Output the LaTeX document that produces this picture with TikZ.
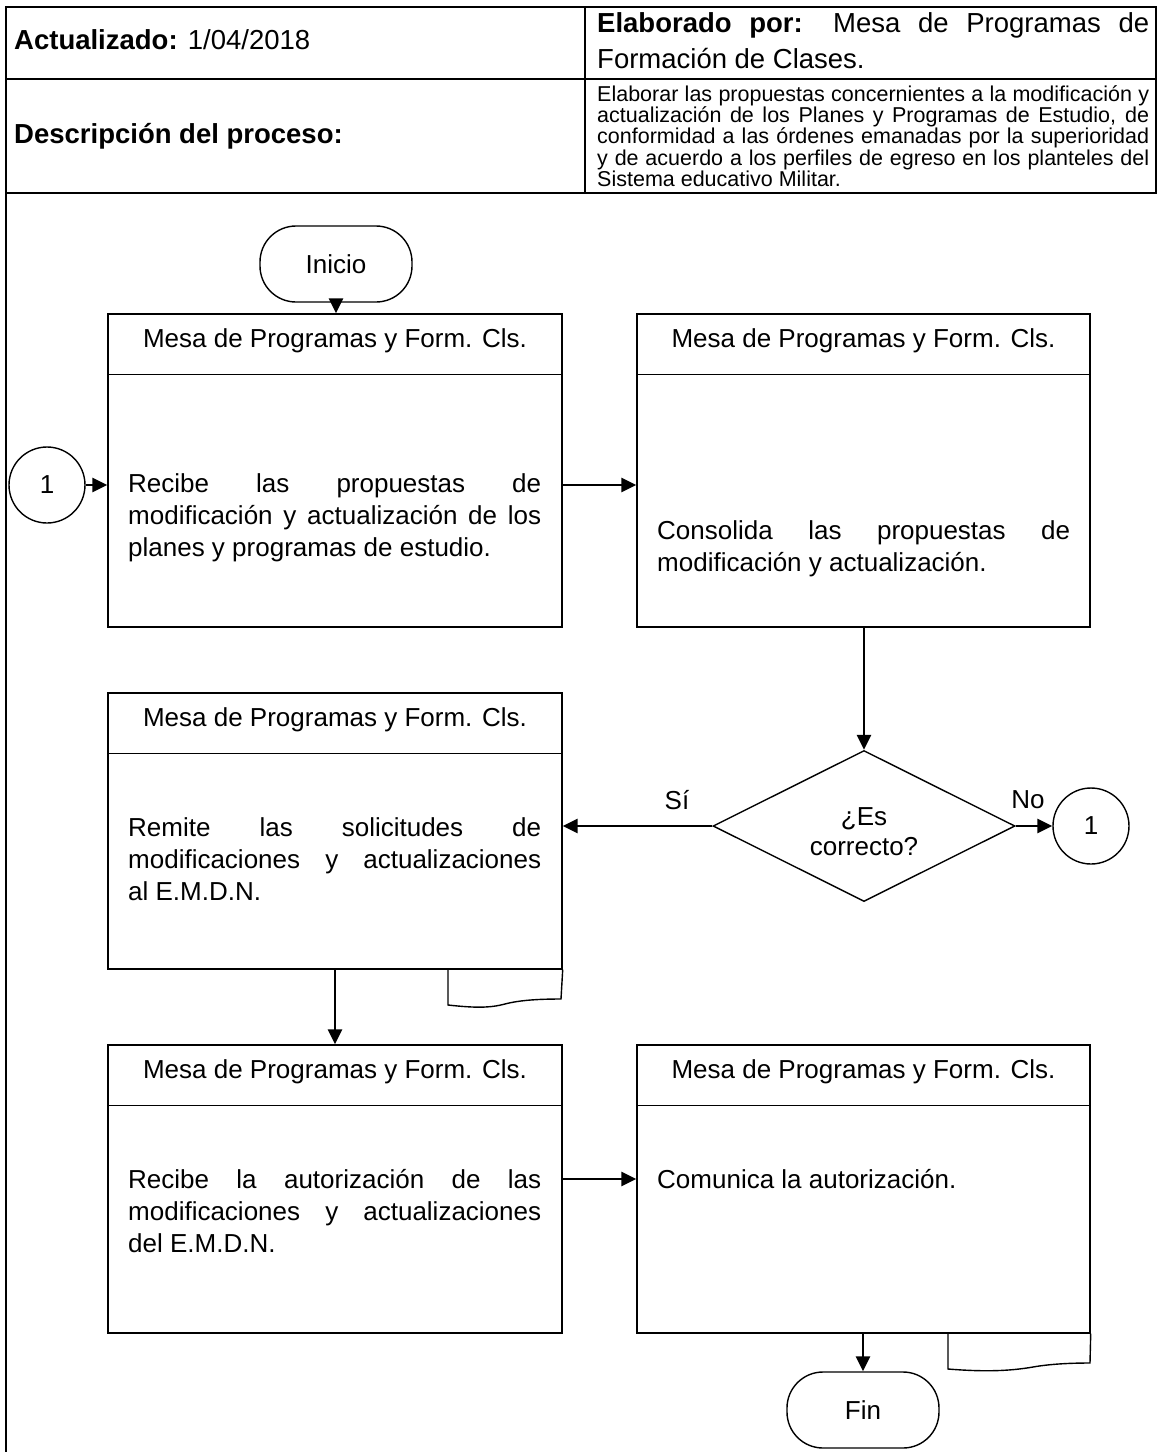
\documentclass[tikz,border=0pt]{standalone}
\usepackage{fontspec}
\setmainfont{Liberation Sans}
\usetikzlibrary{arrows.meta,shapes.geometric,calc}
\hyphenpenalty=10000
\exhyphenpenalty=10000
\newcommand\flowfont{\fontsize{26}{32}\selectfont}
\newcommand\hdrfont{\fontsize{27.5}{36}\selectfont}
\newcommand\parfont{\fontsize{21.5}{21.4}\selectfont}
\tikzset{
  tline/.style={line width=2pt},
  procbox/.style={draw, line width=1.4pt, minimum width=454pt, inner sep=0pt},
  hline/.style={line width=1.4pt},
  term/.style={draw, line width=1.4pt, rounded corners=36pt, minimum width=152pt, minimum height=76pt, inner sep=0pt, font=\flowfont},
  conn/.style={draw, circle, line width=1.4pt, minimum size=76pt, inner sep=0pt, font=\flowfont},
  arr/.style={line width=2.8pt, -{Triangle[length=15pt,width=14pt]}},
  bodytxt/.style={anchor=west, text width=413pt, align=justify, inner sep=0pt, font=\flowfont},
  headtxt/.style={inner sep=0pt, font=\flowfont},
  lbl/.style={inner sep=0pt, font=\flowfont},
}
\begin{document}
\begin{tikzpicture}[x=1pt,y=-1pt]
\fill[white] (0,0) rectangle (1159,1452);
\useasboundingbox (0,0) rectangle (1159,1452);
% header table
\draw[tline] (6,1452) -- (6,7) -- (1156,7) -- (1156,193) -- (6,193);
\draw[tline] (6,79) -- (1156,79);
\draw[tline] (585,7) -- (585,193);
\node[anchor=west, inner sep=0pt, font=\hdrfont] (act) at (14,40) {\textbf{Actualizado:} 1/04/2018};
\node[anchor=west, text width=552pt, align=justify, inner sep=0pt, font=\hdrfont] (elab) at (597,41)
  {\textbf{Elaborado por:} Mesa de Programas de\linebreak Formación de Clases.};
\node[anchor=west, inner sep=0pt, font=\hdrfont] (desc) at (14,136) {\textbf{Descripción del proceso:}};
\node[anchor=west, text width=552pt, align=justify, inner sep=0pt, font=\parfont] (par) at (597,136)
  {Elaborar las propuestas concernientes a la modificación y\linebreak actualización de los Planes y Programas de Estudio, de\linebreak conformidad a las órdenes emanadas por la superioridad\linebreak y de acuerdo a los perfiles de egreso en los planteles del\linebreak Sistema educativo Militar.};
% flowchart
\node[term] (ini) at (336,264) {Inicio};
\node[procbox, minimum height=313pt] (b1) at (335,470.5) {};
\node[procbox, minimum width=453pt, minimum height=313pt] (b2) at (863.5,470.5) {};
\node[procbox, minimum height=276pt] (b3) at (335,831) {};
\node[procbox, minimum height=288pt] (b4) at (335,1189) {};
\node[procbox, minimum width=453pt, minimum height=288pt] (b5) at (863.5,1189) {};
\foreach \b in {b1,b2,b3,b4,b5}
  \draw[hline] ($(\b.north west)+(0,61)$) -- ($(\b.north east)+(0,61)$);
\foreach \b in {b1,b2,b3,b4,b5}
  \node[headtxt] (h\b) at ($(\b.north)+(0,27)$) {Mesa de Programas y Form. Cls.};
\node[bodytxt] (t1) at (128,518) {Recibe las propuestas de\linebreak modificación y actualización de los\linebreak planes y programas de estudio.};
\node[bodytxt] (t2) at (657,549) {Consolida las propuestas de\linebreak modificación y actualización.};
\node[bodytxt] (t3) at (128,859) {Remite las solicitudes de\linebreak modificaciones y actualizaciones\linebreak al E.M.D.N.};
\node[bodytxt] (t4) at (128,1211) {Recibe la autorización de las\linebreak modificaciones y actualizaciones\linebreak del E.M.D.N.};
\node[bodytxt] (t5) at (657,1179) {Comunica la autorización.};
% document tabs
\draw[hline] (b3.south east) -- (561,999) .. controls (540,999) and (520,1000) .. (505,1004) .. controls (490,1008) and (475,1008) .. (448,1005) -- (448,969);
\draw[hline] (b5.south east) -- (1090,1363) .. controls (1070,1363) and (1050,1364) .. (1033,1367) .. controls (1010,1371) and (985,1372) .. (948,1369) -- (948,1333);
\node[conn] (c1) at (47,485) {1};
\node[draw, diamond, line width=1.4pt, minimum width=302pt, minimum height=151pt, inner sep=0pt] (dia) at (864,826) {};
\node[lbl, align=center, font=\fontsize{26}{30}\selectfont] (diat) at (864,832) {¿Es\\correcto?};
\node[conn] (c2) at (1091,826) {1};
\node[term] (fin) at (863,1410) {Fin};
\node[lbl] (si) at (677,800) {Sí};
\node[lbl] (no) at (1028,800) {No};
% connectors
\draw[arr] (ini.south) -- (ini.south |- b1.north);
\draw[arr] (c1.east) -- (c1.east -| b1.west);
\draw[arr] (b1.east |- c1.east) -- (b2.west |- c1.east);
\draw[arr] (b2.south -| dia.north) -- (dia.north);
\draw[arr] (dia.west) -- (dia.west -| b3.east);
\draw[arr] (dia.east) -- (c2.west);
\draw[arr] (b3.south) -- (b4.north);
\draw[arr] (b4.east |- t5.west) -- (b5.west |- t5.west);
\draw[arr] (b5.south -| fin.north) -- (fin.north);
\end{tikzpicture}
\end{document}
